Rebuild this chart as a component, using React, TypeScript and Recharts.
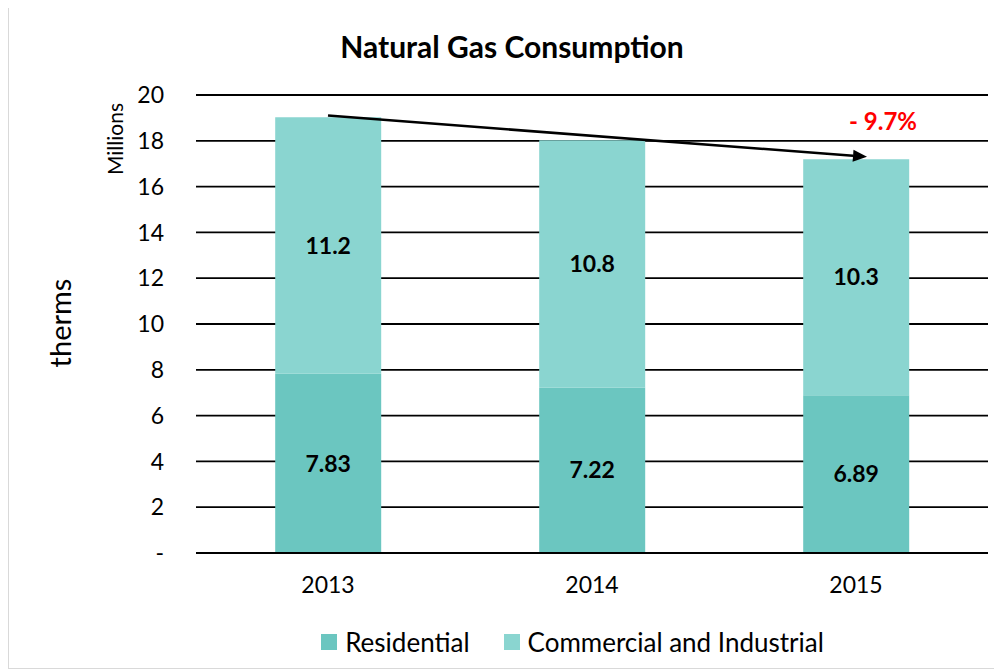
import React from 'react';
import { BarChart, Bar, XAxis, YAxis, CartesianGrid, Legend, LabelList, ReferenceLine, ReferenceDot, Customized } from 'recharts';

const years = ['2013', '2014', '2015'];
const residential = [7.83, 7.22, 6.89];
const commercial = [11.2, 10.8, 10.3];
const yTicks = [0, 2, 4, 6, 8, 10, 12, 14, 16, 18, 20];
const arrowFrom = { year: '2013', value: 19.1 };
const arrowTo = { year: '2015', value: 17.3 };
const changeLabel = '- 9.7%';

const data = years.map((year, i) => ({
  year,
  residential: residential[i],
  commercial: commercial[i],
}));

const FONT = 'Lato, "Open Sans", sans-serif';
const RES_COLOR = '#6bc6c0';
const COM_COLOR = '#8ad5d0';

const legendItems = [
  { name: 'Residential', color: RES_COLOR },
  { name: 'Commercial and Industrial', color: COM_COLOR },
];

// arrow drawn over the reference segment, tip pushed a bit right like the original
const ArrowShape = (props: any) => {
  const { x1, y1, x2, y2 } = props;
  const tipX = x2 + 11;
  const tipY = y2;
  const ang = Math.atan2(tipY - y1, tipX - x1);
  const len = 14;
  const half = 6;
  const bx = tipX - len * Math.cos(ang);
  const by = tipY - len * Math.sin(ang);
  const p1 = `${bx + half * Math.sin(ang)},${by - half * Math.cos(ang)}`;
  const p2 = `${bx - half * Math.sin(ang)},${by + half * Math.cos(ang)}`;
  return (
    <g>
      <line x1={x1} y1={y1} x2={bx} y2={by} stroke="#000" strokeWidth={2.5} />
      <polygon points={`${tipX},${tipY} ${p1} ${p2}`} fill="#000" />
    </g>
  );
};

const ChangeLabel = (props: any) => {
  const { viewBox } = props;
  const cx = viewBox.x + (viewBox.width || 0) / 2;
  const cy = viewBox.y + (viewBox.height || 0) / 2;
  return (
    <text x={cx + 27} y={cy} textAnchor="middle" dominantBaseline="central" fill="#ff0000" fontWeight="bold" fontSize={24} fontFamily={FONT}>
      {changeLabel}
    </text>
  );
};

const Titles = () => (
  <g fontFamily={FONT}>
    <text x={503} y={38} textAnchor="middle" dominantBaseline="central" fontSize={30} fontWeight="bold" fill="#000">
      Natural Gas Consumption
    </text>
    <text x={105} y={131} textAnchor="middle" dominantBaseline="central" fontSize={21} fill="#000" transform="rotate(-90 105 131)">
      Millions
    </text>
    <text x={50} y={315} textAnchor="middle" dominantBaseline="central" fontSize={29} fill="#000" transform="rotate(-90 50 315)">
      therms
    </text>
  </g>
);

// legend sits right of centre in the original
const LegendContent = () => (
  <div style={{ display: 'flex', justifyContent: 'center', alignItems: 'center', height: 34, paddingLeft: 148, fontFamily: FONT, fontSize: 26, color: '#000' }}>
    {legendItems.map((it, i) => (
      <div key={it.name} style={{ display: 'flex', alignItems: 'center', marginLeft: i ? 34 : 0 }}>
        <span style={{ width: 16, height: 16, background: it.color, display: 'inline-block', marginRight: 8 }} />
        <span>{it.name}</span>
      </div>
    ))}
  </div>
);

export default function App() {
  return (
    <div style={{ width: 986, height: 660, border: '1px solid #d9d9d9', marginTop: -1, background: '#fff', fontFamily: FONT }}>
      <BarChart
        width={986}
        height={660}
        data={data}
        margin={{ top: 87, right: 7, left: 0, bottom: 9 }}
        barCategoryGap="30%"
      >
        <CartesianGrid vertical={false} stroke="#000" strokeWidth={1.8} />
        <XAxis
          dataKey="year"
          axisLine={{ stroke: '#000', strokeWidth: 1.8 }}
          tickLine={false}
          tick={{ fill: '#000', fontSize: 23, fontFamily: FONT }}
          tickMargin={18}
          height={72}
        />
        <YAxis
          domain={[0, 20]}
          ticks={yTicks}
          interval={0}
          width={187}
          axisLine={false}
          tickLine={false}
          tickMargin={26}
          tick={{ fill: '#000', fontSize: 23, fontFamily: FONT }}
          tickFormatter={(v: number) => (v === 0 ? '-' : String(v))}
        />
        <Legend verticalAlign="bottom" content={LegendContent} wrapperStyle={{ height: 34 }} />
        <Bar dataKey="residential" name="Residential" stackId="a" fill={RES_COLOR} isAnimationActive={false}>
          <LabelList dataKey="residential" position="center" fill="#000" fontWeight="bold" fontSize={23} fontFamily={FONT} />
        </Bar>
        <Bar dataKey="commercial" name="Commercial and Industrial" stackId="a" fill={COM_COLOR} isAnimationActive={false}>
          <LabelList dataKey="commercial" position="center" fill="#000" fontWeight="bold" fontSize={23} fontFamily={FONT} />
        </Bar>
        <ReferenceLine
          segment={[{ x: arrowFrom.year, y: arrowFrom.value }, { x: arrowTo.year, y: arrowTo.value }]}
          shape={ArrowShape}
          ifOverflow="visible"
        />
        <ReferenceDot x={arrowTo.year} y={18.9} r={0} fill="none" stroke="none" label={<ChangeLabel />} ifOverflow="visible" />
        <Customized component={Titles} />
      </BarChart>
    </div>
  );
}
